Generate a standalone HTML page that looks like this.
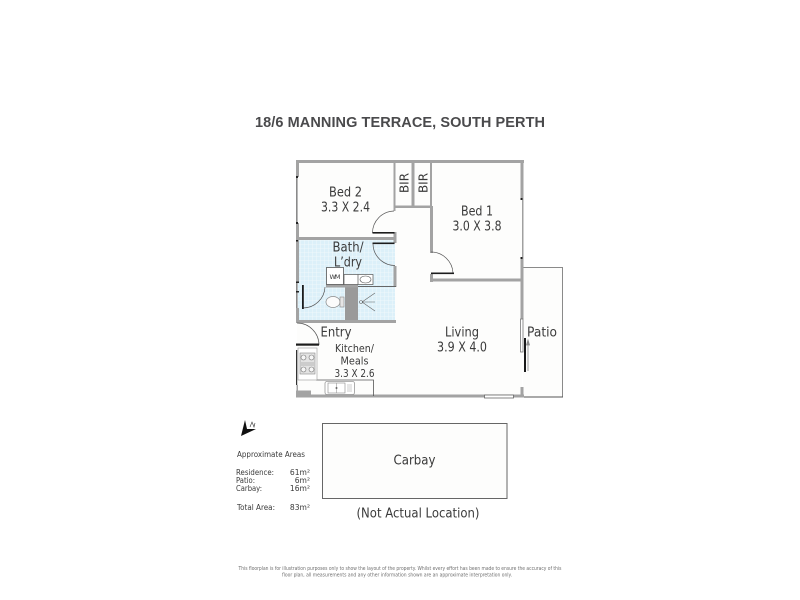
<!DOCTYPE html>
<html><head><meta charset="utf-8"><style>
html,body{margin:0;padding:0;background:#fff;width:800px;height:600px;overflow:hidden}
svg{display:block}
text{font-family:"DejaVu Sans","Liberation Sans",sans-serif;fill:#3a3a3a}
</style></head><body>
<svg width="800" height="600" viewBox="0 0 800 600" xmlns="http://www.w3.org/2000/svg">
<defs>
<pattern id="tile" width="4" height="4" patternUnits="userSpaceOnUse">
<rect width="4" height="4" fill="#dcf0f9"/>
<path d="M0 0H4M0 0V4" stroke="#f4fafd" stroke-width=".8"/>
</pattern>
</defs>
<rect width="800" height="600" fill="#fff"/>
<text x="400" y="127" text-anchor="middle" font-size="14.5" font-weight="700" textLength="290" style="font-family:'Liberation Sans',sans-serif;fill:#4a4a4c">18/6 MANNING TERRACE, SOUTH PERTH</text>

<!-- interior -->
<rect x="297" y="161" width="225" height="236" fill="#fdfdfc"/>
<rect x="523" y="267" width="40" height="130" fill="#fdfdfc"/>
<rect x="322.5" y="423.5" width="184.5" height="75" fill="#fdfdfc" stroke="#666" stroke-width="1"/>

<!-- bathroom tiles -->
<rect x="298" y="240" width="97" height="81" fill="url(#tile)"/>
<rect x="345" y="287" width="13" height="34" fill="#9a9a9a"/>

<!-- patio -->
<path d="M523 267.5H562.5V397" fill="none" stroke="#8a8a8a" stroke-width="1"/>
<path d="M523 397H563" stroke="#555" stroke-width="1"/>

<g fill="#a3a3a3">
<!-- outer walls -->
<rect x="296" y="160" width="228" height="3"/>
<rect x="296" y="160" width="3" height="17"/>
<rect x="296" y="223" width="3" height="59"/>
<rect x="296" y="308" width="3" height="14"/>
<rect x="520.5" y="160" width="3" height="39"/>
<rect x="520.5" y="258" width="3" height="61"/>
<rect x="296" y="394.5" width="228" height="3"/>
<rect x="520.5" y="387" width="3" height="10"/>
<rect x="296" y="320" width="100" height="3"/>
<!-- BIR -->
<rect x="393.5" y="161" width="2" height="50"/>
<rect x="411.5" y="161" width="3" height="46"/>
<rect x="430" y="161" width="2" height="46"/>
<rect x="394" y="205.5" width="38" height="2.500"/>
<!-- Bed 2 bath -->
<rect x="296" y="237" width="99" height="3"/>
<rect x="393.5" y="232" width="3" height="11"/>
<rect x="393.5" y="266" width="3" height="21"/>
<!-- Bed 1 -->
<rect x="430" y="206" width="3" height="47"/>
<rect x="430" y="274" width="3" height="8"/>
<rect x="431" y="278.5" width="91" height="3"/>
<!-- vanity block -->
<rect x="326" y="284.500" width="32" height="3"/>
<!-- kitchen chunk -->
<rect x="296" y="390.500" width="15" height="6"/>
</g>
<rect x="358" y="286" width="38" height="1" fill="#666"/>
<rect x="296" y="177" width="1.600" height="46" fill="#8a8a8a"/>
<rect x="296" y="282" width="1.600" height="26" fill="#8a8a8a"/>
<rect x="296" y="350" width="1.200" height="35" fill="#333"/>
<rect x="296.500" y="385" width="1.500" height="6" fill="#a3a3a3"/>
<rect x="522" y="199" width="1.500" height="59" fill="#a0a0a0"/>

<!-- windows -->
<rect x="296" y="281.500" width="3" height="1.500" fill="#222"/>
<rect x="296" y="291" width="3" height="1.500" fill="#222"/>
<rect x="296" y="240" width="2" height="1.500" fill="#222"/>
<rect x="520.5" y="198" width="2" height="2" fill="#222"/>
<rect x="520.5" y="257" width="2" height="2" fill="#222"/>
<rect x="520.5" y="319" width="2.5" height="33" fill="#fff" stroke="#777" stroke-width=".8"/>
<rect x="484.5" y="395" width="29" height="3" fill="#fff" stroke="#666" stroke-width=".8"/>
<rect x="296" y="176" width="2" height="2" fill="#222"/>
<rect x="296" y="222" width="2" height="2" fill="#222"/>

<!-- sliding door -->
<rect x="524" y="338" width="2" height="34" fill="#1a1a1a"/>
<path d="M528 371V342M526.5 345L528 340L529.5 345Z" stroke="#888" stroke-width=".8" fill="#999"/>

<!-- doors -->
<g fill="none" stroke="#555" stroke-width=".7">
<path d="M394 211A22 22 0 0 0 372.500 233"/>
<path d="M373 244A22 22 0 0 0 395 265.500"/>
<path d="M431 252A22 22 0 0 1 453 273"/>
<path d="M303 308A22 22 0 0 0 325 287"/>
<path d="M297 323A22 22 0 0 1 319 345"/>
</g>
<g fill="#1c1c1c">
<rect x="372.500" y="232" width="22" height="1.600"/>
<rect x="372.500" y="242.500" width="22" height="1.600"/>
<rect x="431" y="272.500" width="23" height="1.600"/>
<rect x="302" y="285" width="1.800" height="24"/>
<rect x="296" y="343.500" width="23" height="2.200"/>
</g>

<!-- bath fixtures -->
<rect x="326.500" y="267.500" width="17" height="17" fill="#fff" stroke="#555" stroke-width=".8"/>
<text x="335" y="279" text-anchor="middle" font-size="6.500" textLength="11">WM</text>
<rect x="344" y="274.500" width="29" height="10" fill="#fff" stroke="#555" stroke-width=".7"/>
<path d="M358 274.500V284.500" stroke="#555" stroke-width=".7"/>
<ellipse cx="365.500" cy="279.500" rx="5.500" ry="3.500" fill="#fff" stroke="#555" stroke-width=".6"/>
<ellipse cx="333" cy="302" rx="7" ry="5.500" fill="#fbfbfb" stroke="#888" stroke-width=".7"/>
<rect x="340" y="297" width="4" height="10" fill="#e5e5e5" stroke="#888" stroke-width=".6"/>
<g stroke="#666" stroke-width=".6" fill="none">
<circle cx="361" cy="302" r="1.500"/>
<path d="M362 302L375 293M362 302H375M362 302L375 311"/>
</g>

<!-- kitchen -->
<path d="M298 348.500H316.500V380H373.500V396" fill="none" stroke="#555" stroke-width=".8"/>
<rect x="298" y="348" width="19" height="32" fill="#fff" stroke="#999" stroke-width=".6"/>
<rect x="300" y="353" width="15" height="21" fill="#e3e3e3" stroke="#888" stroke-width=".6"/>
<g fill="#f6f6f6" stroke="#777" stroke-width=".6">
<circle cx="303.500" cy="357.500" r="2.500"/><circle cx="311.500" cy="357.500" r="2.500"/>
<circle cx="303.500" cy="369.500" r="2.500"/><circle cx="311.500" cy="369.500" r="2.500"/>
</g>
<path d="M301 363H314M301 365H314" stroke="#888" stroke-width=".6"/>
<rect x="325" y="381.500" width="29.500" height="13" rx="2" fill="#fff" stroke="#999" stroke-width=".8"/>
<rect x="328" y="383" width="17" height="10" fill="#fff" stroke="#888" stroke-width=".6"/>
<path d="M336.500 383V393M347 385H352M347 387H352M347 389H352M347 391H352" stroke="#999" stroke-width=".6"/>
<circle cx="336.500" cy="388" r="1" fill="#666"/>

<!-- rotated BIR labels -->
<text transform="translate(408.500 193) rotate(-90)" font-size="12.500" textLength="20" lengthAdjust="spacingAndGlyphs">BIR</text>
<text transform="translate(427.500 193) rotate(-90)" font-size="12.500" textLength="20" lengthAdjust="spacingAndGlyphs">BIR</text>

<!-- room labels -->
<g text-anchor="middle" font-size="13">
<text x="345.500" y="196.500" textLength="33" lengthAdjust="spacingAndGlyphs">Bed 2</text>
<text x="345.500" y="211.500" textLength="49" lengthAdjust="spacingAndGlyphs">3.3 X 2.4</text>
<text x="477" y="215.500" textLength="32" lengthAdjust="spacingAndGlyphs">Bed 1</text>
<text x="477" y="230.500" textLength="49" lengthAdjust="spacingAndGlyphs">3.0 X 3.8</text>
<text x="348" y="251.500" textLength="31" lengthAdjust="spacingAndGlyphs">Bath/</text>
<text x="348" y="266.500" textLength="28" lengthAdjust="spacingAndGlyphs">L’dry</text>
<text x="336" y="336.500" textLength="31" lengthAdjust="spacingAndGlyphs">Entry</text>
<text x="462" y="336.500" textLength="34" lengthAdjust="spacingAndGlyphs">Living</text>
<text x="462" y="351.500" textLength="50" lengthAdjust="spacingAndGlyphs">3.9 X 4.0</text>
<text x="542" y="336.500" textLength="30" lengthAdjust="spacingAndGlyphs">Patio</text>
<text x="414.500" y="464.500" textLength="42" lengthAdjust="spacingAndGlyphs">Carbay</text>
<text x="418" y="517.500" textLength="123" lengthAdjust="spacingAndGlyphs">(Not Actual Location)</text>
</g>
<g text-anchor="middle" font-size="11">
<text x="354.500" y="352" textLength="39" lengthAdjust="spacingAndGlyphs">Kitchen/</text>
<text x="354.500" y="364.500" textLength="28" lengthAdjust="spacingAndGlyphs">Meals</text>
<text x="354.500" y="377" textLength="40" lengthAdjust="spacingAndGlyphs">3.3 X 2.6</text>
</g>

<!-- compass -->
<path d="M241 436L245 420L247 429L256 429Z" fill="#111"/>
<path d="M250 427L252 422L254 427L255 423" fill="none" stroke="#333" stroke-width=".6"/>

<!-- areas -->
<g font-size="7.600">
<text x="237" y="457" textLength="68" lengthAdjust="spacingAndGlyphs">Approximate Areas</text>
<text x="236" y="475" textLength="38" lengthAdjust="spacingAndGlyphs">Residence:</text>
<text x="236" y="483" textLength="19" lengthAdjust="spacingAndGlyphs">Patio:</text>
<text x="236" y="491" textLength="26" lengthAdjust="spacingAndGlyphs">Carbay:</text>
<text x="237" y="510" textLength="38" lengthAdjust="spacingAndGlyphs">Total Area:</text>
</g>
<g font-size="7.600" text-anchor="end">
<text x="310" y="475">61m²</text>
<text x="310" y="483">6m²</text>
<text x="310" y="491">16m²</text>
<text x="310" y="510">83m²</text>
</g>

<!-- disclaimer -->
<g font-size="5" text-anchor="middle" style="opacity:.75">
<text x="400" y="570" textLength="323" lengthAdjust="spacingAndGlyphs">This floorplan is for illustration purposes only to show the layout of the property. Whilst every effort has been made to ensure the accuracy of this</text>
<text x="397" y="576.500" textLength="230" lengthAdjust="spacingAndGlyphs">floor plan, all measurements and any other information shown are an approximate interpretation only.</text>
</g>
</svg>
</body></html>
